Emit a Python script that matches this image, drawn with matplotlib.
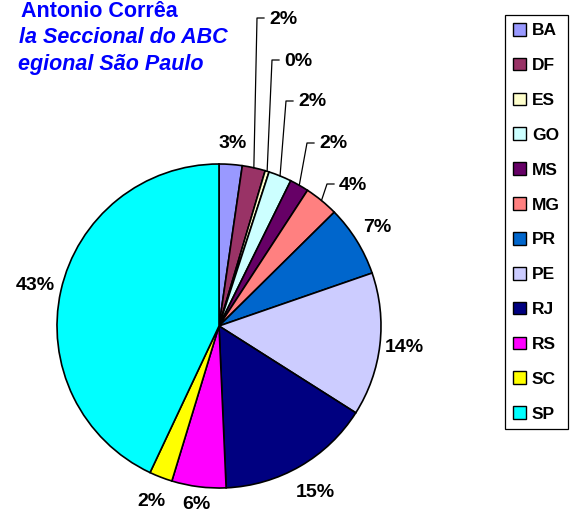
import numpy as np
import matplotlib
matplotlib.use('Agg')
import matplotlib.pyplot as plt
from matplotlib.patches import Patch

plt.rcParams['font.family'] = ['Liberation Sans', 'DejaVu Sans']
plt.rcParams['font.weight'] = 'bold'

# data
states = ['BA', 'DF', 'ES', 'GO', 'MS', 'MG', 'PR', 'PE', 'RJ', 'RS', 'SC', 'SP']
shares = [2.3, 2.3, 0.4, 2.3, 1.9, 3.4, 7.1, 14.3, 15.3, 5.4, 2.3, 43.0]
pct_labels = ['3%', '2%', '0%', '2%', '2%', '4%', '7%', '14%', '15%', '6%', '2%', '43%']
colors = ['#9999FF', '#993366', '#FFFFCC', '#CCFFFF', '#660066', '#FF8080',
          '#0066CC', '#CCCCFF', '#000080', '#FF00FF', '#FFFF00', '#00FFFF']
title_lines = ['Antonio Corrêa', 'la Seccional do ABC', 'egional São Paulo']

W, H = 573, 513
fig = plt.figure(figsize=(W / 100, H / 100), dpi=100)
ax = fig.add_axes([0, 0, 1, 1])

cx, cy, r = 219, H - 326, 162
wedges, _ = ax.pie(shares, colors=colors, startangle=90, counterclock=False,
                   center=(cx, cy), radius=r, frame=True,
                   wedgeprops=dict(edgecolor='black', linewidth=1.2))
ax.set_xlim(0, W)
ax.set_ylim(0, H)
ax.set_aspect('equal')
ax.axis('off')

# leader-line labels: elbow points in screen pixels (x, y from top)
leaders = {1: (257, 18), 2: (272, 60), 3: (286, 101), 4: (307, 143), 5: (327, 184)}
# distance factor of the plain labels
dist = {0: 1.13, 6: 1.15, 7: 1.15, 8: 1.19, 9: 1.11, 10: 1.16, 11: 1.16}

for i, w in enumerate(wedges):
    mid = np.deg2rad((w.theta1 + w.theta2) / 2)
    if i in leaders:
        ex, ey = leaders[i]
        ey = H - ey
        sx, sy = cx + r * np.cos(mid), cy + r * np.sin(mid)
        ax.plot([sx, ex, ex + 7], [sy, ey, ey], color='black', lw=0.9)
        ax.text(ex + 12, ey - 1, pct_labels[i], ha='left', va='center',
                fontsize=14, fontweight='bold')
    else:
        d = dist[i] * r
        ax.text(cx + d * np.cos(mid), cy + d * np.sin(mid), pct_labels[i],
                ha='center', va='center', fontsize=14, fontweight='bold')

# title (cut off at the left edge as in the source)
title_right = [178, 228, 204]
title_base = [17, 43, 70]
for k, line in enumerate(title_lines):
    ax.text(title_right[k], H - title_base[k], line, ha='right', va='baseline',
            color='#0000FF', fontsize=15.5, fontweight='bold',
            style='normal' if k == 0 else 'italic')

handles = [Patch(facecolor=c, edgecolor='black', linewidth=1.0) for c in colors]
leg = fig.legend(handles, states, loc='upper left',
                 bbox_to_anchor=(505 / W, 1 - 15 / H), borderaxespad=0,
                 fontsize=12.5, handlelength=0.75, handleheight=0.75,
                 handletextpad=0.35, labelspacing=1.12, borderpad=0.45,
                 fancybox=False, framealpha=1, edgecolor='black')
leg.get_frame().set_linewidth(0.9)
for t in leg.get_texts():
    t.set_fontweight('bold')

fig.savefig('out.png', dpi=100)
